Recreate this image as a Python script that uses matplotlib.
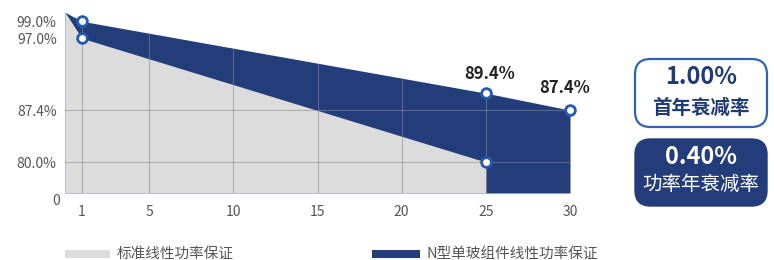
import numpy as np
import matplotlib
matplotlib.use("Agg")
import matplotlib.pyplot as plt
from matplotlib.patches import FancyBboxPatch, Rectangle

plt.rcParams['font.family'] = ['Noto Sans CJK SC', 'DejaVu Sans']

# ── data ──
std_years = [0, 1, 25]
std_power = [100.0, 97.0, 80.0]
n_years = [0, 1, 25, 30]
n_power = [100.0, 99.0, 89.4, 87.4]

std_marks = [(1, 97.0), (25, 80.0)]
n_marks = [(1, 99.0), (25, 89.4), (30, 87.4)]

xticks = [1, 5, 10, 15, 20, 25, 30]
yticks = [80.0, 87.4, 97.0, 99.0]
ytick_labels = ["80.0%", "87.4%", "97.0%", "99.0%"]
ygrid = [80.0, 87.4]
xgrid = [1, 5, 10, 15, 20, 25]

box1_value, box1_label = "1.00%", "首年衰减率"
box2_value, box2_label = "0.40%", "功率年衰减率"
legend_labels = ["标准线性功率保证", "N型单玻组件线性功率保证"]

NAVY = "#233d7b"
GRAY_FILL = "#dcdcdc"
MARK_EDGE = "#2459b0"
TXT = "#555555"

# ── uneven y axis (as drawn in the source): piecewise linear scale ──
knots_v = np.array([75.6, 80.0, 87.4, 89.4, 97.0, 99.0, 100.0, 101.0])
knots_p = np.array([0.0, 31.0, 83.0, 100.0, 155.0, 172.0, 181.0, 190.0])


def fwd(v):
    return np.interp(v, knots_v, knots_p, left=-1e3, right=1e3)


def inv(p):
    return np.interp(p, knots_p, knots_v)


fig = plt.figure(figsize=(7.74, 2.60), dpi=100)
ax = fig.add_axes([65 / 774, 67 / 260, 505 / 774, 183 / 260])
ax.set_yscale('function', functions=(fwd, inv))
ymin = 75.6
ax.set_xlim(0, 30)
ax.set_ylim(ymin, 100.25)

navy_fill = ax.fill_between(n_years, n_power, ymin, color=NAVY, lw=0, zorder=1)
ax.fill_between(std_years, std_power, ymin, color=GRAY_FILL, lw=0, zorder=2)

# grid only inside the filled area
clip = navy_fill.get_paths()[0]
for y in ygrid:
    ln = ax.axhline(y, color="#8a8a8a", lw=0.8, alpha=0.55, zorder=3)
    ln.set_clip_path(clip, ax.transData)
for x in xgrid:
    ln = ax.axvline(x, color="#8a8a8a", lw=0.8, alpha=0.55, zorder=3)
    ln.set_clip_path(clip, ax.transData)

for x, y in std_marks + n_marks:
    ax.plot(x, y, "o", ms=7, mfc="white", mec=MARK_EDGE, mew=2, zorder=5,
            clip_on=False)

ax.annotate("89.4%", (25, 89.4), xytext=(3, 14), textcoords="offset points",
            ha="center", va="center", fontsize=12, fontweight="bold",
            color="#222222", zorder=6)
ax.annotate("87.4%", (30, 87.4), xytext=(-4, 16), textcoords="offset points",
            ha="center", va="center", fontsize=12, fontweight="bold",
            color="#222222", zorder=6, annotation_clip=False)

for s in ax.spines.values():
    s.set_visible(False)
ax.set_xticks(xticks)
ax.set_xticklabels([str(x) for x in xticks], fontsize=10, color=TXT)
ax.set_yticks(yticks)
ax.set_yticklabels(ytick_labels, fontsize=10, color=TXT)
ax.yaxis.set_minor_locator(matplotlib.ticker.NullLocator())
ax.tick_params(axis="both", length=0)
ax.tick_params(axis="x", pad=9)
ax.tick_params(axis="y", pad=6)
fig.text(60 / 774, 1 - 201 / 260, "0", ha="right", va="center",
         fontsize=10, color=TXT)

# ── side boxes ──
b1 = FancyBboxPatch((635 / 774, 1 - 127 / 260), 132 / 774, 68 / 260,
                    boxstyle="round,pad=0,rounding_size=0.02",
                    transform=fig.transFigure, fc="white", ec="#2f62b5", lw=1.6,
                    mutation_aspect=774 / 260)
b2 = FancyBboxPatch((635 / 774, 1 - 206 / 260), 132 / 774, 67 / 260,
                    boxstyle="round,pad=0,rounding_size=0.02",
                    transform=fig.transFigure, fc=NAVY, ec=NAVY, lw=1,
                    mutation_aspect=774 / 260)
fig.patches.extend([b1, b2])
cx = 701 / 774
fig.text(cx, 1 - 77 / 260, box1_value, ha="center", va="center",
         fontsize=17, fontweight="bold", color="#1f3a75")
fig.text(cx, 1 - 108 / 260, box1_label, ha="center", va="center",
         fontsize=14, fontweight="bold", color="#1f3a75")
fig.text(cx, 1 - 157 / 260, box2_value, ha="center", va="center",
         fontsize=17, fontweight="bold", color="white")
fig.text(cx, 1 - 184 / 260, box2_label, ha="center", va="center",
         fontsize=14, color="white")

# ── legend ──
leg_y = 1 - 254 / 260
fig.patches.append(Rectangle((65 / 774, 1 - 258 / 260), 45 / 774, 8 / 260,
                             transform=fig.transFigure, fc=GRAY_FILL, ec="none"))
fig.text(117 / 774, leg_y, legend_labels[0], ha="left", va="center",
         fontsize=10.5, color=TXT)
fig.patches.append(Rectangle((372 / 774, 1 - 258 / 260), 48 / 774, 8 / 260,
                             transform=fig.transFigure, fc=NAVY, ec="none"))
fig.text(426 / 774, leg_y, legend_labels[1], ha="left", va="center",
         fontsize=10.5, color=TXT)

fig.savefig("out.png", dpi=100)
